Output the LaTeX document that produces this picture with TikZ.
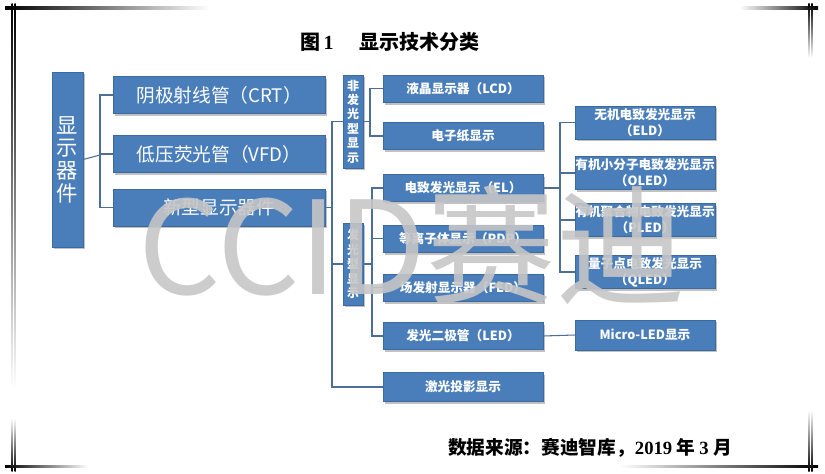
\documentclass[tikz,border=0pt]{standalone}
\usepackage{fontspec}
\newfontfamily\cjk{Noto Sans CJK SC}
\newfontfamily\tnr{Liberation Serif}
\usetikzlibrary{shadows}
\definecolor{boxblue}{HTML}{4A7EBB}
\definecolor{boxline}{HTML}{3D6A9E}
\definecolor{wireblue}{HTML}{4D6F96}
\tikzset{
  box/.style={draw=boxline, line width=0.4pt, fill=boxblue, text=white,
    inner sep=0pt, align=center,
    drop shadow={shadow xshift=1.8pt, shadow yshift=-1.8pt, fill=black!30, opacity=0.8}},
  bigbox/.style={box, minimum width=159pt, minimum height=27.75pt,
    font=\cjk\fontsize{14}{16}\selectfont},
  midbox/.style={box, minimum width=120pt, minimum height=20.5pt,
    font=\cjk\bfseries\fontsize{9.5}{11}\selectfont},
  subbox/.style={box, minimum width=105pt, minimum height=24.75pt,
    font=\cjk\bfseries\fontsize{9.5}{12}\selectfont},
  sidebox/.style={box, minimum width=15pt,
    font=\cjk\bfseries\fontsize{9}{10.8}\selectfont},
  wire/.style={draw=wireblue, line width=0.8pt},
}
\begin{document}
\begin{tikzpicture}[x=0.75pt,y=-0.75pt]
  \useasboundingbox (0,0) rectangle (825,474);
  % corner marks of the frame
  \shade[left color=black, right color=white] (5,7) rectangle (210,9.5);
  \shade[top color=black, bottom color=white] (11.5,4) rectangle (12.6,390);
  \shade[top color=black, bottom color=white] (14.6,4) rectangle (15.7,390);
  \shade[left color=white, right color=black] (740,7) rectangle (818,9.5);
  \shade[top color=black, bottom color=white] (808.4,4) rectangle (809.5,58);
  \shade[top color=black, bottom color=white] (811.4,4) rectangle (812.5,58);
  \shade[left color=black, right color=white] (5,465) rectangle (88,467.5);
  \shade[top color=white, bottom color=black] (11.5,418) rectangle (12.6,471);
  \shade[top color=white, bottom color=black] (14.6,418) rectangle (15.7,471);
  \shade[left color=white, right color=black] (620,465) rectangle (818,467.5);
  \shade[top color=white, bottom color=black] (808.4,410) rectangle (809.5,471);
  \shade[top color=white, bottom color=black] (811.4,410) rectangle (812.5,471);

  \node (title) at (390,42)
    {\cjk\bfseries\fontsize{15}{18}\selectfont 图\,{\tnr\bfseries 1}\hspace{1.3em}显示技术分类};

  % first level
  \node[box, minimum width=23.25pt, minimum height=131.25pt,
    font=\cjk\fontsize{16}{17}\selectfont] (dev) at (67.5,159.5) {显\\示\\器\\件};
  \node[bigbox] (crt) at (219,95) {阴极射线管（CRT）};
  \node[bigbox] (vfd) at (219,154) {低压荧光管（VFD）};
  \node[bigbox] (newd) at (219,207.5) {新型显示器件};

  % second level
  \node[sidebox, minimum height=69.75pt] (nonl) at (353,121.5) {非\\发\\光\\型\\显\\示};
  \node[sidebox, minimum height=61.5pt] (emit) at (353,264) {发\\光\\型\\显\\示};

  \node[midbox] (lcd) at (463,88.5) {液晶显示器（LCD）};
  \node[midbox] (epap) at (463,136) {电子纸显示};
  \node[midbox] (el) at (463,188) {电致发光显示（EL）};
  \node[midbox] (pdp) at (463,238.5) {等离子体显示（PDP）};
  \node[midbox] (fed) at (463,287.5) {场发射显示器（FED）};
  \node[midbox] (led) at (463,336) {发光二极管（LED）};
  \node[midbox, minimum height=22pt] (laser) at (463,387) {激光投影显示};

  % third level
  \node[subbox] (eld) at (645,122.5) {无机电致发光显示\\（ELD）};
  \node[subbox] (oled) at (645,173) {有机小分子电致发光显示\\（OLED）};
  \node[subbox] (pled) at (645,220) {有机聚合物电致发光显示\\（PLED）};
  \node[subbox] (qled) at (645,272) {量子点电致发光显示\\（QLED）};
  \node[subbox, minimum height=22.5pt] (micro) at (645,335) {Micro-LED显示};

  % connectors
  \coordinate (b1) at (100,155);
  \coordinate (b2) at (332,207.5);
  \coordinate (b3) at (370,121.5);
  \coordinate (b4) at (372,264);
  \coordinate (b5) at (560,188);
  \draw[wire] (dev.east) -- (b1);
  \draw[wire] (crt.west) -| (b1) |- (newd.west);
  \draw[wire] (vfd.west) -- (vfd.west -| b1);
  \draw[wire] (newd.east) -- (b2);
  \draw[wire] (nonl.west) -| (b2) |- (laser.west);
  \draw[wire] (emit.west) -- (emit.west -| b2);
  \draw[wire] (nonl.east) -- (b3);
  \draw[wire] (lcd.west) -| (b3) |- (epap.west);
  \draw[wire] (emit.east) -- (b4);
  \draw[wire] (el.west) -| (b4) |- (led.west);
  \draw[wire] (pdp.west) -- (pdp.west -| b4);
  \draw[wire] (fed.west) -- (fed.west -| b4);
  \draw[wire] (el.east) -- (b5);
  \draw[wire] (eld.west) -| (b5) |- (qled.west);
  \draw[wire] (oled.west) -- (oled.west -| b5);
  \draw[wire] (pled.west) -- (pled.west -| b5);
  \draw[wire] (led.east) -- (micro.west);

  \node (src) at (590,448)
    {\cjk\bfseries\fontsize{14}{16}\selectfont 数据来源：赛迪智库，{\tnr\bfseries 2019} 年 {\tnr\bfseries 3} 月};

  % watermark
  \node[text=gray!45, opacity=0.9, inner sep=0pt,
    font=\cjk\fontsize{97}{100}\selectfont] (wm) at (412,245) {CCID赛迪};
\end{tikzpicture}
\end{document}
